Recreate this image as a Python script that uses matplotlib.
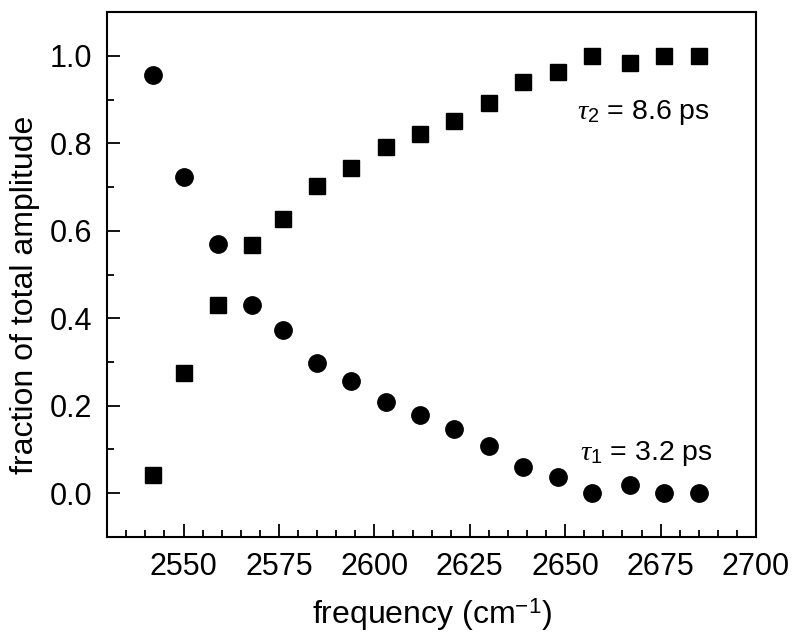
import matplotlib
matplotlib.use("Agg")
import matplotlib.pyplot as plt
from matplotlib.ticker import MultipleLocator

plt.rcParams['font.family'] = ['Liberation Sans', 'DejaVu Sans']
plt.rcParams['mathtext.fontset'] = 'custom'
plt.rcParams['mathtext.rm'] = 'Liberation Sans'
plt.rcParams['mathtext.it'] = 'Liberation Serif:italic'

frequency = [2542, 2550, 2559, 2568, 2576, 2585, 2594, 2603, 2612,
             2621, 2630, 2639, 2648, 2657, 2667, 2676, 2685]
tau1_fraction = [0.957, 0.724, 0.570, 0.431, 0.373, 0.297, 0.256, 0.208, 0.178,
                 0.148, 0.107, 0.059, 0.036, 0.0, 0.018, 0.0, 0.0]
tau2_fraction = [0.042, 0.276, 0.430, 0.568, 0.627, 0.703, 0.744, 0.792, 0.822,
                 0.851, 0.893, 0.940, 0.964, 1.0, 0.983, 1.0, 1.0]
x_ticks = [2550, 2575, 2600, 2625, 2650, 2675, 2700]
y_ticks = [0.0, 0.2, 0.4, 0.6, 0.8, 1.0]

fig = plt.figure(figsize=(8, 6.4), dpi=100)
ax = fig.add_axes([0.134, 0.161, 0.811, 0.820])

ax.plot(frequency, tau1_fraction, 'o', color='black', markersize=12.5, linestyle='none')
ax.plot(frequency, tau2_fraction, 's', color='black', markersize=11, linestyle='none')

ax.set_xlim(2530, 2700)
ax.set_ylim(-0.1, 1.1)
ax.set_xticks(x_ticks)
ax.set_yticks(y_ticks)
ax.set_yticklabels([f"{v:.1f}" for v in y_ticks])
ax.xaxis.set_minor_locator(MultipleLocator(5))
ax.yaxis.set_minor_locator(MultipleLocator(0.1))
ax.tick_params(which='both', direction='in', top=False, right=False,
               labelsize=22, width=1.3, color='black')
ax.tick_params(which='major', length=9.5, pad=11)
ax.tick_params(which='minor', length=5)
for s in ax.spines.values():
    s.set_linewidth(1.5)

ax.set_xlabel(r'frequency (cm$^{\mathregular{-1}}$)', fontsize=23, labelpad=10)
ax.set_ylabel('fraction of total amplitude', fontsize=23, labelpad=7, y=0.462)

ax.text(2653, 0.855, r'$\tau_2$ = 8.6 ps', fontsize=20.5, ha='left', va='baseline')
ax.text(2654, 0.077, r'$\tau_1$ = 3.2 ps', fontsize=20.5, ha='left', va='baseline')

fig.savefig('out.png', dpi=100)
